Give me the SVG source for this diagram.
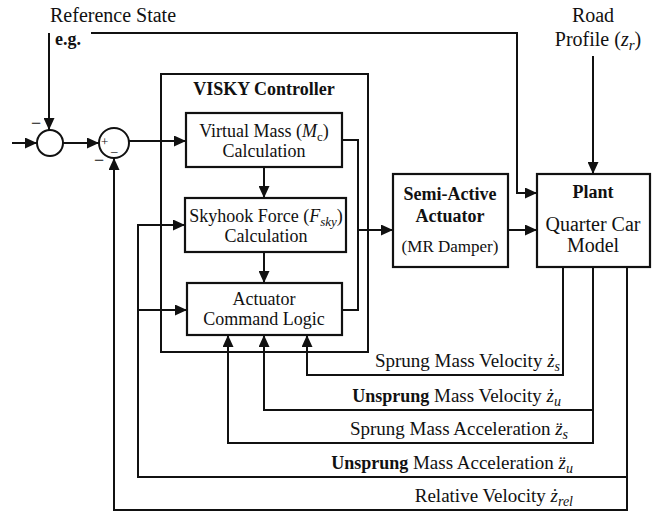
<svg xmlns="http://www.w3.org/2000/svg" width="667" height="515" viewBox="0 0 667 515">
<defs>
<marker id="ah" markerUnits="userSpaceOnUse" markerWidth="12" markerHeight="11" refX="12" refY="5.5" orient="auto">
<path d="M0,0 L12,5.5 L0,11 z" fill="#111"/>
</marker>
<style>
.ln{fill:none;stroke:#111;stroke-width:2}
.arr{fill:none;stroke:#111;stroke-width:2;marker-end:url(#ah)}
.box{fill:#fff;stroke:#111;stroke-width:2.2}
.t{font-family:'Liberation Serif','Times New Roman',serif;font-size:18px;fill:#111}
.big{font-size:20px}
.fb{font-size:19px}
.sm{font-size:17px}
.sg{font-size:13px}
.c{text-anchor:middle}
.e{text-anchor:end}
.b{font-weight:bold;font-size:18px}
.i{font-style:italic}
.s{font-size:13px}
.s2{font-size:14px}
</style>
</defs>
<rect width="667" height="515" fill="#fff"/>

<g id="labels">
<text class="t big" x="50" y="22">Reference State</text>
<text class="t b" x="55" y="45">e.g.</text>
<text class="t big c" x="593" y="22">Road</text>
<text class="t big c" x="598" y="46">Profile (<tspan class="i">z</tspan><tspan class="i" font-size="15" dy="4">r</tspan><tspan dy="-4">)</tspan></text>
</g>

<g id="sum1">
<circle class="ln" cx="50" cy="143" r="13"/>
<text class="t" x="31" y="129">−</text>
</g>
<g id="sum2">
<circle class="ln" cx="114" cy="143" r="15"/>
<text class="t sg" x="101" y="146">+</text>
<text class="t sg" x="111" y="151">_</text>
<text class="t" x="94" y="166">−</text>
</g>

<g id="controller">
<rect class="ln" x="161" y="74" width="207" height="278"/>
<text class="t c b" x="264" y="95">VISKY Controller</text>
</g>
<g id="virtual-mass">
<rect class="box" x="186" y="113" width="156" height="54"/>
<text class="t c" x="264" y="137">Virtual Mass (<tspan class="i">M</tspan><tspan class="s" dy="4">c</tspan><tspan dy="-4">)</tspan></text>
<text class="t c" x="264" y="157">Calculation</text>
</g>
<g id="skyhook">
<rect class="box" x="185" y="198" width="161" height="54"/>
<text class="t c" x="266" y="222">Skyhook Force (<tspan class="i">F</tspan><tspan class="i s" dy="4">sky</tspan><tspan dy="-4">)</tspan></text>
<text class="t c" x="266" y="242">Calculation</text>
</g>
<g id="command-logic">
<rect class="box" x="187" y="283" width="155" height="52"/>
<text class="t c" x="264" y="305">Actuator</text>
<text class="t c" x="264" y="325">Command Logic</text>
</g>
<g id="actuator">
<rect class="box" x="393" y="174" width="115" height="93"/>
<text class="t c b" x="450" y="200">Semi-Active</text>
<text class="t c b" x="450" y="222">Actuator</text>
<text class="t c sm" x="450" y="252">(MR Damper)</text>
</g>
<g id="plant">
<rect class="box" x="537" y="174" width="113" height="93"/>
<text class="t c b" x="593" y="198">Plant</text>
<text class="t c big" x="593" y="231">Quarter Car</text>
<text class="t c big" x="593" y="252">Model</text>
</g>

<g id="connectors">
<path class="arr" d="M12,143 H37"/>
<path class="arr" d="M49,33 V130"/>
<path class="arr" d="M63,143 H99"/>
<path class="arr" d="M129,141 H186"/>
<path class="arr" d="M91,33 H517 V193 H537"/>
<path class="arr" d="M593,56 V174"/>
<path class="arr" d="M264,167 V198"/>
<path class="arr" d="M264,252 V283"/>
<path class="ln" d="M342,140 H358 V310 H342"/>
<path class="arr" d="M358,230 H393"/>
<path class="arr" d="M508,230 H537"/>
<path class="arr" d="M563,267 V375 H307 V335"/>
<path class="arr" d="M593,267 V443 H228 V335"/>
<path class="arr" d="M593,410 H264 V335"/>
<path class="arr" d="M627,267 V510 H114 V158"/>
<path class="arr" d="M627,477 H138 V225 H185"/>
<path class="arr" d="M138,310 H187"/>
</g>

<g id="feedback-labels">
<text class="t fb e" x="560" y="367">Sprung Mass Velocity <tspan class="i">ż</tspan><tspan class="i s2" dy="4">s</tspan></text>
<text class="t fb e" x="561" y="402"><tspan class="b">Unsprung</tspan> Mass Velocity <tspan class="i">ż</tspan><tspan class="i s2" dy="4">u</tspan></text>
<text class="t fb e" x="568" y="435">Sprung Mass Acceleration <tspan class="i">z̈</tspan><tspan class="i s2" dy="4">s</tspan></text>
<text class="t fb e" x="573" y="469"><tspan class="b">Unsprung</tspan> Mass Acceleration <tspan class="i">z̈</tspan><tspan class="i s2" dy="4">u</tspan></text>
<text class="t fb e" x="573" y="502">Relative Velocity <tspan class="i">ż</tspan><tspan class="i s2" dy="4">rel</tspan></text>
</g>
</svg>
